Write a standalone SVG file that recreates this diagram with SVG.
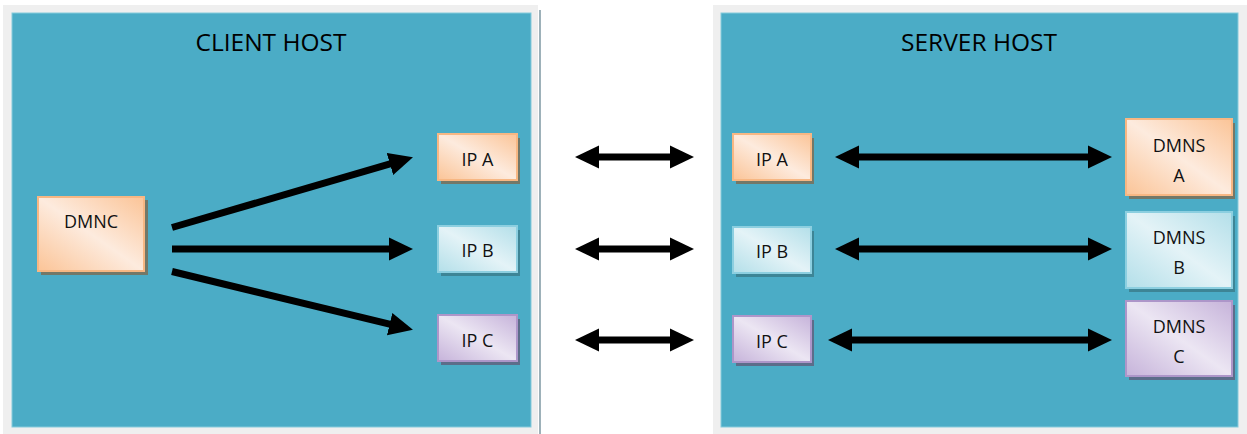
<svg xmlns="http://www.w3.org/2000/svg" width="1247" height="434" viewBox="0 0 1247 434">
  <defs>
    <linearGradient id="gOrange" x1="0" y1="1" x2="1" y2="0">
      <stop offset="0" stop-color="#fbc497"/>
      <stop offset="0.5" stop-color="#fdebde"/>
      <stop offset="1" stop-color="#fbc497"/>
    </linearGradient>
    <linearGradient id="gBlue" x1="0" y1="1" x2="1" y2="0">
      <stop offset="0" stop-color="#b3dfe9"/>
      <stop offset="0.5" stop-color="#e4f3f7"/>
      <stop offset="1" stop-color="#b3dfe9"/>
    </linearGradient>
    <linearGradient id="gPurple" x1="0" y1="1" x2="1" y2="0">
      <stop offset="0" stop-color="#c6b3da"/>
      <stop offset="0.5" stop-color="#ece6f3"/>
      <stop offset="1" stop-color="#c6b3da"/>
    </linearGradient>
    <marker id="head" markerUnits="userSpaceOnUse" markerWidth="26" markerHeight="24" refX="1" refY="12" orient="auto-start-reverse">
      <path d="M0,0.5 L24,12 L0,23.5 Z" fill="#000"/>
    </marker>
  </defs>
  <style>
    .frame { fill: #efefef; }
    .panel { fill: #4bacc6; stroke: #86cbdc; stroke-width: 1; }
    .title { font-family: "Open Sans", "Liberation Sans", sans-serif; font-size: 24.5px; fill: #000; text-anchor: middle; }
    .label { font-family: "Open Sans", "Liberation Sans", sans-serif; font-size: 18px; fill: #111; text-anchor: middle; }
    .orange { fill: url(#gOrange); stroke: #f7b783; stroke-width: 2; }
    .blue { fill: url(#gBlue); stroke: #8ccfe0; stroke-width: 2; }
    .purple { fill: url(#gPurple); stroke: #ad96c9; stroke-width: 2; }
    .sh-orange { fill: #737868; }
    .sh-blue { fill: #3d8596; }
    .sh-purple { fill: #5c6d8a; }
    .arrow { stroke: #000; stroke-width: 7; fill: none; marker-end: url(#head); }
    .arrow2 { stroke: #000; stroke-width: 7; fill: none; marker-start: url(#head); marker-end: url(#head); }
  </style>

  <rect width="1247" height="434" fill="#fff"/>

  <!-- client host panel -->
  <g id="client-host">
    <rect class="frame" x="3" y="5" width="535" height="429"/>
    <rect class="panel" x="12" y="13" width="519" height="414"/>
    <rect x="539" y="10" width="2" height="424" fill="#9db1b9"/>
    <text class="title" x="271" y="51">CLIENT HOST</text>
  </g>

  <!-- server host panel -->
  <g id="server-host">
    <rect class="frame" x="713" y="5" width="534" height="429"/>
    <rect class="panel" x="721" y="13" width="517" height="414"/>
    <text class="title" x="979" y="51">SERVER HOST</text>
  </g>

  <g id="dmnc">
    <rect class="sh-orange" x="41" y="200" width="107" height="75"/>
    <rect class="orange" x="38" y="197" width="106" height="74"/>
    <text class="label" x="91" y="228">DMNC</text>
  </g>

  <g id="client-ip-a">
    <rect class="sh-orange" x="441" y="138" width="79" height="46"/>
    <rect class="orange" x="438" y="134" width="79" height="46"/>
    <text class="label" x="477.5" y="166">IP A</text>
  </g>
  <g id="client-ip-b">
    <rect class="sh-blue" x="441" y="230" width="79" height="46"/>
    <rect class="blue" x="438" y="226" width="79" height="46"/>
    <text class="label" x="477.5" y="257">IP B</text>
  </g>
  <g id="client-ip-c">
    <rect class="sh-purple" x="441" y="319" width="79" height="46"/>
    <rect class="purple" x="438" y="315" width="79" height="46"/>
    <text class="label" x="477.5" y="347">IP C</text>
  </g>

  <g id="server-ip-a">
    <rect class="sh-orange" x="736" y="138" width="78" height="46"/>
    <rect class="orange" x="733" y="134" width="78" height="46"/>
    <text class="label" x="772" y="166">IP A</text>
  </g>
  <g id="server-ip-b">
    <rect class="sh-blue" x="736" y="231" width="78" height="46"/>
    <rect class="blue" x="733" y="227" width="78" height="46"/>
    <text class="label" x="772" y="258">IP B</text>
  </g>
  <g id="server-ip-c">
    <rect class="sh-purple" x="736" y="320" width="78" height="46"/>
    <rect class="purple" x="733" y="316" width="78" height="46"/>
    <text class="label" x="772" y="348">IP C</text>
  </g>

  <g id="dmns-a">
    <rect class="sh-orange" x="1129" y="123" width="106" height="76"/>
    <rect class="orange" x="1126" y="119" width="106" height="76"/>
    <text class="label" x="1179" y="152">DMNS</text>
    <text class="label" x="1179" y="182">A</text>
  </g>
  <g id="dmns-b">
    <rect class="sh-blue" x="1129" y="216" width="106" height="76"/>
    <rect class="blue" x="1126" y="212" width="106" height="76"/>
    <text class="label" x="1179" y="244">DMNS</text>
    <text class="label" x="1179" y="274">B</text>
  </g>
  <g id="dmns-c">
    <rect class="sh-purple" x="1129" y="305" width="106" height="75"/>
    <rect class="purple" x="1126" y="301" width="106" height="75"/>
    <text class="label" x="1179" y="333">DMNS</text>
    <text class="label" x="1179" y="363">C</text>
  </g>

  <!-- connectors -->
  <g id="connectors">
    <line class="arrow" x1="172" y1="227.5" x2="390.9" y2="163.7"/>
    <line class="arrow" x1="172" y1="249" x2="390" y2="249"/>
    <line class="arrow" x1="172" y1="271.5" x2="390.6" y2="324.3"/>

    <line class="arrow2" x1="598" y1="157" x2="671" y2="157"/>
    <line class="arrow2" x1="598" y1="249" x2="671" y2="249"/>
    <line class="arrow2" x1="598" y1="340" x2="671" y2="340"/>

    <line class="arrow2" x1="858" y1="157" x2="1089" y2="157"/>
    <line class="arrow2" x1="858" y1="249" x2="1089" y2="249"/>
    <line class="arrow2" x1="851" y1="340" x2="1089" y2="340"/>
  </g>
</svg>
